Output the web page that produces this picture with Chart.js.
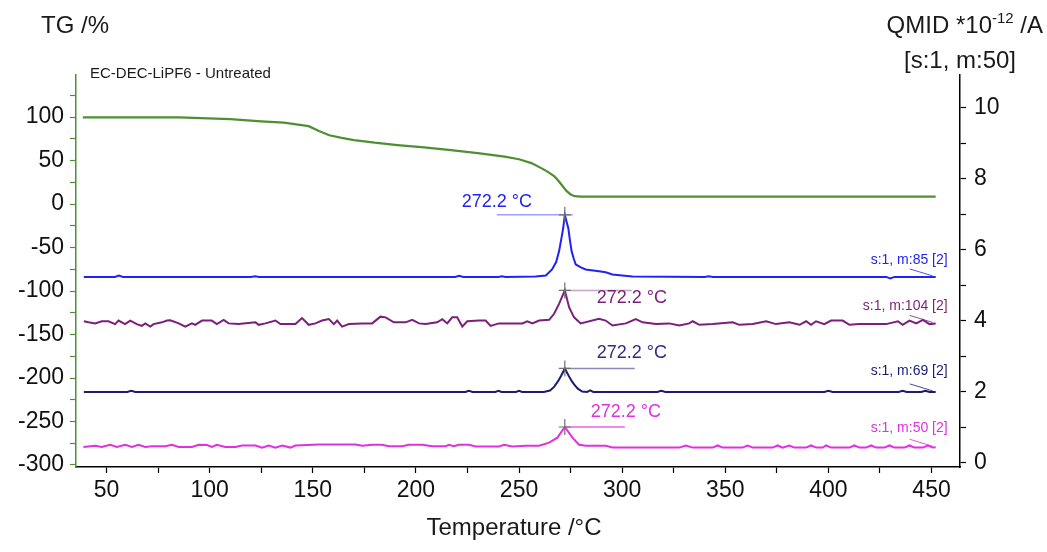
<!DOCTYPE html>
<html>
<head>
<meta charset="utf-8">
<script src="https://cdn.jsdelivr.net/npm/chart.js@4.4.0/dist/chart.umd.min.js"></script>
<style>
  html, body { margin: 0; padding: 0; background: #fff; }
  #wrap { width: 1047px; height: 552px; }
</style>
</head>
<body>
<div id="wrap"><canvas id="grafico"></canvas></div>
<script>
// tacche degli assi (quelle non multiple restano senza etichetta)
const xTicks = [50, 75, 100, 125, 150, 175, 200, 225, 250, 275, 300, 325, 350, 375, 400, 425, 450];
const tgTicks = [-300, -275, -250, -225, -200, -175, -150, -125, -100, -75, -50, -25, 0, 25, 50, 75, 100, 125];
const msTicks = [0, 1, 2, 3, 4, 5, 6, 7, 8, 9, 10];

// TG curve (left axis, %)
const tgTemp = [38.5, 85, 110, 125, 136, 142, 148, 153, 158, 164, 170, 180, 191, 204, 217, 230, 243, 250, 256, 261, 264, 267, 269, 271, 273, 275, 277, 280, 452];
const tgVal = [99.5, 99.5, 97.5, 95, 93.5, 91.5, 89.5, 84, 79, 76, 73.5, 70.5, 67.8, 65, 62, 58.5, 54.4, 51.5, 47, 41, 37, 32, 27, 21, 15, 11, 9, 8.4, 8.4];

// QMID m:85 (right axis)
const m85Temp = [39, 54, 56, 58, 120, 122, 124, 219, 221, 223, 240, 241.7, 243.5, 258, 263, 266, 268, 269.4, 270.5, 271.4, 272.2, 273, 273.9, 274.7, 275.5, 276.5, 277.5, 280, 282.3, 285, 288.8, 292, 295.3, 300, 305, 340, 342, 344, 400, 428, 430, 432, 452];
const m85Val = [5.23, 5.23, 5.27, 5.23, 5.23, 5.25, 5.23, 5.23, 5.26, 5.23, 5.23, 5.25, 5.23, 5.24, 5.27, 5.44, 5.65, 5.95, 6.3, 6.6, 6.98, 6.8, 6.6, 6.25, 5.95, 5.75, 5.58, 5.5, 5.44, 5.42, 5.39, 5.36, 5.3, 5.27, 5.24, 5.23, 5.25, 5.23, 5.23, 5.23, 5.19, 5.23, 5.23];

// QMID m:104
const m104Temp = [39, 41.3, 44.5, 47.7, 51, 54.2, 55.8, 59, 61.5, 64.7,
  67.1, 68.8, 71.2, 72.8, 76.9, 79.3, 80.9, 85, 88.2, 91.4,
  93, 96.3, 101, 103.5, 106.8, 109.2, 114, 122.2, 123.8, 127,
  131.9, 134.3, 141.6, 144.8, 148, 151.3, 154.5, 157.8, 160.2, 161.8,
  164.2, 167.5, 174, 178.8, 182.8, 185.3, 189.3, 195, 198.2, 201.5,
  204.7, 210.3, 212.8, 215.2, 217.6, 220, 222.5, 224.9, 230.6, 233.8,
  236.2, 240.3, 250, 251.6, 254, 256.5, 259.7, 264.6, 267, 269.4,
  272.2, 274.3, 276.7, 279.9, 288.8, 292, 295.3, 301.8, 306.6, 309.9,
  316.4, 322.8, 327.7, 332.5, 334.2, 337.4, 343.9, 353.6, 356.8, 363.3,
  369.8, 374.6, 381, 386, 389.2, 391.6, 394, 398, 401.3, 406.9,
  410.2, 415, 421.5, 428, 433.7, 436, 439.3, 442.6, 445.8, 449,
  452];
const m104Val = [3.98, 3.95, 3.92, 3.98, 3.98, 3.90, 4.0, 3.90, 4.0, 3.90,
  3.85, 3.92, 3.83, 3.90, 3.95, 4.0, 4.01, 3.92, 3.83, 3.92,
  3.88, 4.0, 4.0, 3.90, 4.02, 3.92, 3.90, 3.95, 3.88, 3.92,
  4.0, 3.90, 3.90, 4.07, 3.88, 3.92, 4.0, 4.04, 3.90, 4.0,
  3.83, 3.90, 3.92, 3.92, 4.11, 4.09, 3.95, 3.95, 4.02, 3.92,
  3.90, 3.95, 4.04, 3.92, 4.09, 4.09, 3.83, 3.98, 4.0, 4.0,
  3.85, 3.92, 3.92, 3.92, 3.98, 3.92, 4.0, 4.02, 4.19, 4.47,
  4.85, 4.37, 4.09, 3.92, 4.05, 4.0, 3.86, 3.92, 4.04, 3.95,
  3.90, 3.92, 3.86, 3.92, 3.98, 3.88, 3.90, 3.95, 3.88, 3.90,
  3.98, 3.90, 3.95, 3.88, 3.98, 3.88, 3.98, 3.90, 4.0, 4.0,
  3.88, 3.90, 3.90, 3.90, 3.98, 3.88, 4.0, 3.92, 4.02, 3.90,
  3.92];

// QMID m:69
const m69Temp = [39, 60, 62, 64, 150, 224, 225.7, 227.5, 238.5, 240, 241.5, 248.5, 250, 251.5, 262, 265, 267, 269, 270.5, 272.2, 274, 275.5, 276.7, 278.5, 280.6, 283, 284.5, 286, 317, 319, 321, 398, 400, 402, 434, 436, 438, 445, 447, 449, 452];
const m69Val = [1.99, 1.99, 2.02, 1.99, 1.99, 1.99, 2.02, 1.99, 1.99, 2.02, 1.99, 1.99, 2.02, 1.99, 1.99, 2.03, 2.13, 2.3, 2.45, 2.65, 2.45, 2.3, 2.2, 2.08, 2.0, 1.99, 2.03, 1.99, 1.99, 2.02, 1.99, 1.99, 2.02, 1.99, 1.99, 2.02, 1.99, 1.99, 2.02, 1.99, 1.99];

// QMID m:50
const m50Temp = [38.8, 44.5, 47.7, 51.8, 55, 59, 62.3, 65.5, 68.8, 72,
  78.5, 81.7, 85, 91.4, 94.7, 98.7, 101.1, 103.5, 107.6, 112.5,
  115.7, 122.2, 125.4, 128.6, 131.9, 135.1, 139.2, 141.6, 152.9, 170.7,
  174, 178.8, 183.6, 186.9, 193.4, 196.6, 203.1, 207.9, 214.4, 216,
  218.4, 220.9, 225.7, 229, 240.3, 242.7, 246.8, 253.2, 259.7, 264.6,
  268.6, 272.2, 275.9, 279.1, 282.4, 292.1, 295.3, 327.7, 330.9, 334.1,
  343.9, 346.3, 348.7, 358.4, 360.8, 363.3, 373, 375.4, 377.8, 381,
  383.5, 389.2, 391.6, 394, 397.3, 398.9, 401.3, 410.2, 412.6, 415,
  418.3, 420.7, 423.1, 427.2, 429.6, 432, 436.9, 439.3, 441.7, 445.8,
  448.2, 450.7, 452];
const m50Val = [0.44, 0.47, 0.44, 0.50, 0.44, 0.50, 0.44, 0.50, 0.44, 0.46,
  0.46, 0.50, 0.44, 0.44, 0.50, 0.49, 0.44, 0.50, 0.44, 0.44,
  0.48, 0.48, 0.42, 0.48, 0.42, 0.48, 0.42, 0.48, 0.51, 0.51,
  0.47, 0.50, 0.50, 0.46, 0.46, 0.50, 0.50, 0.46, 0.46, 0.50,
  0.46, 0.50, 0.50, 0.45, 0.45, 0.50, 0.45, 0.47, 0.47, 0.56,
  0.70, 1.0, 0.70, 0.50, 0.47, 0.47, 0.42, 0.42, 0.48, 0.42,
  0.42, 0.48, 0.42, 0.42, 0.48, 0.42, 0.42, 0.48, 0.42, 0.48,
  0.42, 0.42, 0.48, 0.42, 0.42, 0.48, 0.42, 0.42, 0.48, 0.42,
  0.42, 0.48, 0.42, 0.42, 0.48, 0.42, 0.42, 0.48, 0.42, 0.42,
  0.48, 0.42, 0.43];

const peakTemp = 272.2;
const peakText = '272.2 °C';

const FONT = '"Liberation Sans", Arial, sans-serif';

const toPoints = (xs, ys) => xs.map((t, i) => ({ x: t, y: ys[i] }));

// colori delle curve
const cGreen = '#4f8f32';
const cBlue = '#2222f5';
const cPurple = '#7a1f7a';
const cNavy = '#1c1c70';
const cMagenta = '#e030e0';

// testi, croci e linee attorno al grafico
const extraText = {
  id: 'extraText',
  afterDatasetsDraw(chart) {
    const ctx = chart.ctx;
    const xs = chart.scales.x;
    const ys = chart.scales.yMS;
    ctx.save();
    ctx.textBaseline = 'middle';
    ctx.fillStyle = '#1a1a1a';

    // titoli assi
    ctx.font = '24px ' + FONT;
    ctx.textAlign = 'left';
    ctx.fillText('TG /%', 41, 26);
    ctx.textAlign = 'center';
    ctx.fillText('Temperature /°C', 514, 528);

    // QMID *10^-12 /A
    ctx.textAlign = 'left';
    const p1 = 'QMID *10', p2 = '-12', p3 = ' /A';
    ctx.font = '24px ' + FONT;
    const w1 = ctx.measureText(p1).width, w3 = ctx.measureText(p3).width;
    ctx.font = '15px ' + FONT;
    const w2 = ctx.measureText(p2).width;
    let sx = 1043 - (w1 + w2 + w3);
    ctx.font = '24px ' + FONT;
    ctx.fillText(p1, sx, 26);
    ctx.font = '15px ' + FONT;
    ctx.fillText(p2, sx + w1, 19);
    ctx.font = '24px ' + FONT;
    ctx.fillText(p3, sx + w1 + w2, 26);
    ctx.textAlign = 'center';
    ctx.fillText('[s:1, m:50]', 960, 61);

    // nome campione
    ctx.font = '15px ' + FONT;
    ctx.textAlign = 'left';
    ctx.fillText('EC-DEC-LiPF6 - Untreated', 90, 74);

    // picchi
    const peaks = [
      { vals: m85Val, temps: m85Temp, col: cBlue, line: 'rgba(80,80,255,0.55)', l0: -68, l1: 8, tx: -68, ty: -13, align: 'center' },
      { vals: m104Val, temps: m104Temp, col: cPurple, line: 'rgba(150,90,150,0.55)', l0: -2, l1: 67, tx: 32, ty: 8, align: 'left' },
      { vals: m69Val, temps: m69Temp, col: '#2e2e80', line: 'rgba(60,60,140,0.6)', l0: 0, l1: 70, tx: 32, ty: -15, align: 'left' },
      { vals: m50Val, temps: m50Temp, col: cMagenta, line: 'rgba(230,60,230,0.8)', l0: 0, l1: 60, tx: 26, ty: -15, align: 'left' }
    ];
    peaks.forEach(p => {
      const i = p.temps.indexOf(peakTemp);
      const px = xs.getPixelForValue(peakTemp);
      const py = ys.getPixelForValue(p.vals[i]);
      ctx.strokeStyle = p.line;
      ctx.lineWidth = 1.5;
      ctx.beginPath();
      ctx.moveTo(px + p.l0, py);
      ctx.lineTo(px + p.l1, py);
      ctx.stroke();
      ctx.strokeStyle = '#707070';
      ctx.lineWidth = 1.2;
      ctx.beginPath();
      ctx.moveTo(px - 6, py); ctx.lineTo(px + 6, py);
      ctx.moveTo(px, py - 8); ctx.lineTo(px, py + 8);
      ctx.stroke();
      ctx.fillStyle = p.col;
      ctx.font = '18px ' + FONT;
      ctx.textAlign = p.align;
      ctx.fillText(peakText, px + p.tx, py + p.ty);
    });

    // etichette delle curve MS
    const tags = [
      { txt: 's:1, m:85 [2]', vals: m85Val, temps: m85Temp, col: cBlue, dy: -17 },
      { txt: 's:1, m:104 [2]', vals: m104Val, temps: m104Temp, col: cPurple, dy: -17 },
      { txt: 's:1, m:69 [2]', vals: m69Val, temps: m69Temp, col: cNavy, dy: -21 },
      { txt: 's:1, m:50 [2]', vals: m50Val, temps: m50Temp, col: cMagenta, dy: -19 }
    ];
    ctx.font = '14px ' + FONT;
    ctx.textAlign = 'right';
    tags.forEach(t => {
      const n = t.temps.length - 1;
      const ex = xs.getPixelForValue(t.temps[n]);
      const ey = ys.getPixelForValue(t.vals[n]);
      ctx.fillStyle = t.col;
      ctx.fillText(t.txt, ex + 12, ey + t.dy);
      ctx.strokeStyle = t.col;
      ctx.lineWidth = 0.8;
      ctx.beginPath();
      ctx.moveTo(ex - 26, ey - 8);
      ctx.lineTo(ex - 3, ey - 1);
      ctx.stroke();
    });
    ctx.restore();
  }
};

const tickFont = { family: FONT, size: 23 };
const setTicks = list => s => { s.ticks = list.map(v => ({ value: v })); };

new Chart(document.getElementById('grafico'), {
  type: 'line',
  data: {
    datasets: [
      { label: 'TG', data: toPoints(tgTemp, tgVal), yAxisID: 'yTG', borderColor: cGreen, borderWidth: 2.2 },
      { label: 'm85', data: toPoints(m85Temp, m85Val), yAxisID: 'yMS', borderColor: cBlue, borderWidth: 2 },
      { label: 'm104', data: toPoints(m104Temp, m104Val), yAxisID: 'yMS', borderColor: cPurple, borderWidth: 2 },
      { label: 'm69', data: toPoints(m69Temp, m69Val), yAxisID: 'yMS', borderColor: cNavy, borderWidth: 2 },
      { label: 'm50', data: toPoints(m50Temp, m50Val), yAxisID: 'yMS', borderColor: cMagenta, borderWidth: 2 }
    ]
  },
  options: {
    responsive: true,
    maintainAspectRatio: false,
    animation: false,
    elements: { point: { radius: 0 }, line: { tension: 0 } },
    layout: { padding: { top: 75, left: 0, right: 0, bottom: 0 } },
    plugins: { legend: { display: false }, tooltip: { enabled: false } },
    scales: {
      x: {
        type: 'linear',
        position: 'bottom',
        bounds: 'data',
        min: 35.2,
        max: 463.8,
        afterBuildTicks: setTicks(xTicks),
        border: { color: '#000', width: 1.5 },
        grid: { drawOnChartArea: false, tickLength: 6, color: '#000', tickWidth: 1.2 },
        ticks: {
          autoSkip: false, maxRotation: 0,
          color: '#111', font: tickFont, padding: 4,
          callback: v => (v % 50 === 0 ? String(v) : '')
        },
        afterFit: s => { s.height = 85; }
      },
      yTG: {
        type: 'linear',
        position: 'left',
        bounds: 'data',
        min: -302.3,
        max: 148.3,
        afterBuildTicks: setTicks(tgTicks),
        border: { color: cGreen, width: 1.5 },
        grid: { drawOnChartArea: false, tickLength: 6, color: cGreen, tickWidth: 1.2 },
        ticks: {
          autoSkip: false,
          color: '#111', font: tickFont, padding: 6,
          callback: v => (v % 50 === 0 && v <= 100 ? String(v) : '')
        },
        afterFit: s => { s.width = 76; }
      },
      yMS: {
        type: 'linear',
        position: 'right',
        bounds: 'data',
        min: -0.127,
        max: 10.92,
        afterBuildTicks: setTicks(msTicks),
        border: { color: '#000', width: 1.5 },
        grid: { drawOnChartArea: false, tickLength: 6, color: '#000', tickWidth: 1.2 },
        ticks: {
          autoSkip: false,
          color: '#111', font: tickFont, padding: 8,
          callback: v => (v % 2 === 0 ? String(v) : '')
        },
        afterFit: s => { s.width = 87; }
      }
    }
  },
  plugins: [extraText]
});
</script>
</body>
</html>
